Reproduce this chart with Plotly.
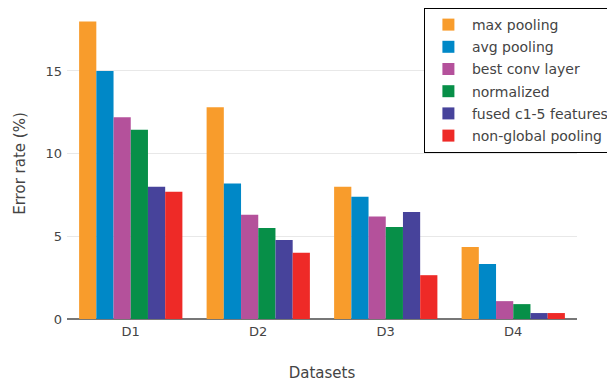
import plotly.graph_objects as go

categories = ["D1", "D2", "D3", "D4"]
series_names = ["max pooling", "avg pooling", "best conv layer", "normalized",
                "fused c1-5 features", "non-global pooling"]
max_pooling = [18.0, 12.8, 8.0, 4.35]
avg_pooling = [15.0, 8.2, 7.4, 3.33]
best_conv = [12.2, 6.3, 6.2, 1.08]
normalized = [11.45, 5.5, 5.57, 0.9]
fused = [8.0, 4.78, 6.47, 0.36]
non_global = [7.7, 4.0, 2.65, 0.36]
colors = ["#F89C2C", "#0088C7", "#B4519B", "#078F48", "#47439B", "#EE2A27"]

values = [max_pooling, avg_pooling, best_conv, normalized, fused, non_global]

fig = go.Figure()
for i, (name, vals, c) in enumerate(zip(series_names, values, colors)):
    fig.add_trace(go.Bar(x=categories, y=vals, name=name, marker_color=c,
                         marker_line_width=0, legendgroup=f"g{i}"))

fig.update_layout(
    width=607, height=375,
    margin=dict(l=59, r=0, t=0, b=64, autoexpand=False),
    paper_bgcolor="white", plot_bgcolor="white",
    font=dict(family="DejaVu Sans", size=13, color="#444"),
    barmode="group", bargap=0.19, bargroupgap=0,
    legend=dict(x=0.998, xanchor="right", y=1.0, yanchor="top",
                bordercolor="#000", borderwidth=1, bgcolor="white",
                font=dict(size=14), tracegroupgap=1, itemwidth=37),
    xaxis=dict(domain=[0, 510 / 548],
               title=dict(text="Datasets", font=dict(size=15), standoff=29),
               ticklabelstandoff=3,
               showgrid=False, ticks="", tickfont=dict(size=13)),
    yaxis=dict(title=dict(text="Error rate (%)", font=dict(size=15), standoff=16),
               range=[0, 18.81], ticklabelstandoff=4,
               showgrid=True, gridcolor="#e8e8e8", gridwidth=1,
               zeroline=True, zerolinecolor="#777", zerolinewidth=2,
               tickvals=[0, 5, 10, 15], tickfont=dict(size=13)),
)

fig.write_html("out.html")
